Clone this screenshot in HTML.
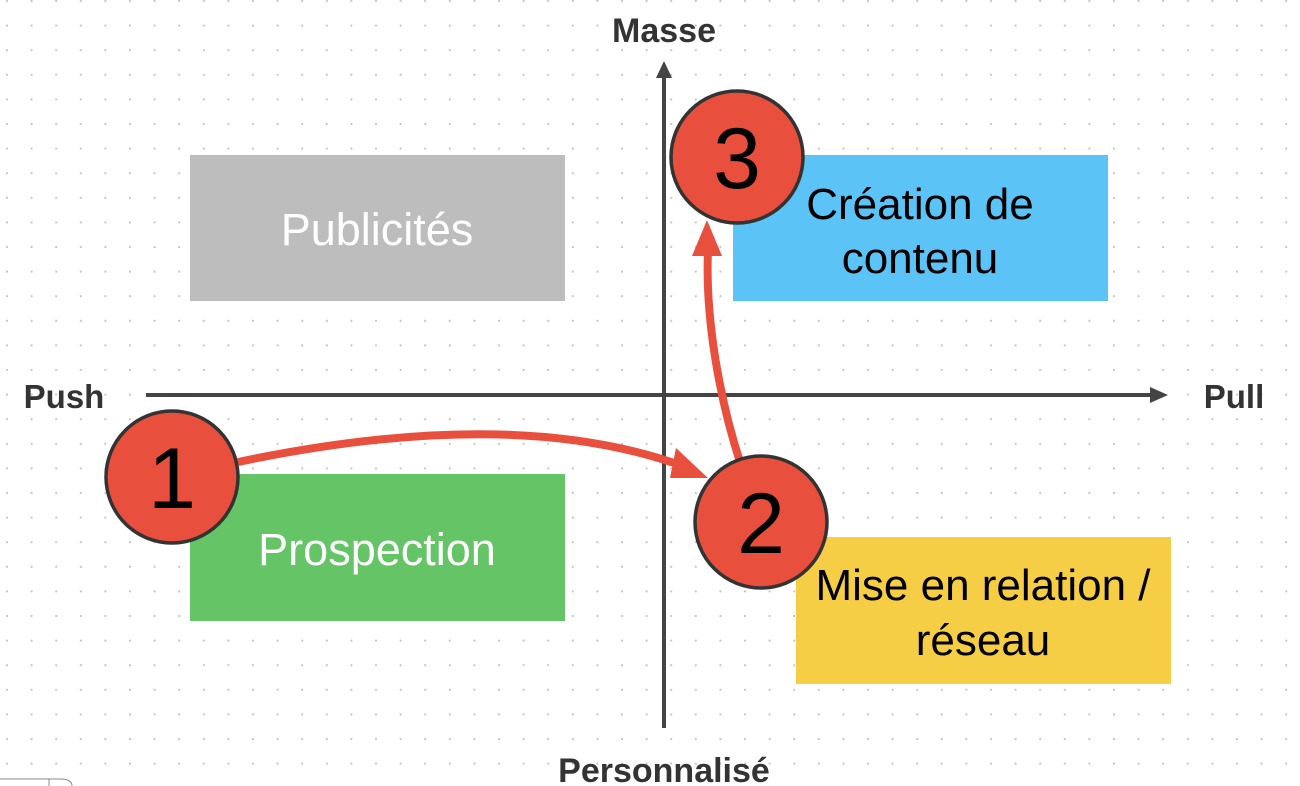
<!DOCTYPE html>
<html><head><style>
html,body{margin:0;padding:0;background:#fff;}
svg{display:block;}
text{font-family:"Liberation Sans",sans-serif;}
</style></head><body>
<svg width="1300" height="786" viewBox="0 0 1300 786" xmlns="http://www.w3.org/2000/svg">
<defs>
<pattern id="dots" x="7" y="1" width="24.6" height="24.6" patternUnits="userSpaceOnUse">
<circle cx="0" cy="0" r="1.1" fill="#c4c4c4"/>
<circle cx="24.6" cy="0" r="1.1" fill="#c4c4c4"/>
<circle cx="0" cy="24.6" r="1.1" fill="#c4c4c4"/>
<circle cx="24.6" cy="24.6" r="1.1" fill="#c4c4c4"/>
</pattern>
</defs>
<rect width="1300" height="786" fill="url(#dots)"/>
<rect x="190" y="155" width="375" height="146" fill="#bdbdbd"/>
<text x="377" y="245" font-size="45" fill="#fff" text-anchor="middle">Publicités</text>
<rect x="733" y="155" width="375" height="146" fill="#5bc3f5"/>
<text x="920" y="219" font-size="44" fill="#000" text-anchor="middle">Création de</text>
<text x="920" y="273" font-size="44" fill="#000" text-anchor="middle">contenu</text>
<rect x="190" y="474" width="375" height="147" fill="#64c466"/>
<text x="377" y="565" font-size="45" fill="#fff" text-anchor="middle">Prospection</text>
<rect x="796" y="537" width="375" height="147" fill="#f6ce46"/>
<text x="983" y="600" font-size="44" fill="#000" text-anchor="middle">Mise en relation /</text>
<text x="983" y="655" font-size="44" fill="#000" text-anchor="middle">réseau</text>
<line x1="664" y1="76" x2="664" y2="728" stroke="#444" stroke-width="4"/>
<polygon points="664,61 656,78 672,78" fill="#444"/>
<line x1="146" y1="395" x2="1152" y2="395" stroke="#444" stroke-width="4"/>
<polygon points="1168,395 1150,387 1150,403" fill="#444"/>
<text x="664" y="42" font-size="34" font-weight="bold" fill="#333" text-anchor="middle">Masse</text>
<text x="664" y="782" font-size="34" font-weight="bold" fill="#333" text-anchor="middle">Personnalisé</text>
<text x="64" y="408" font-size="33" font-weight="bold" fill="#333" text-anchor="middle">Push</text>
<text x="1234" y="408" font-size="33" font-weight="bold" fill="#333" text-anchor="middle">Pull</text>
<path d="M238,462 C400,428 560,420 688,468" fill="none" stroke="#e94f3d" stroke-width="8"/>
<polygon points="708,478 676,448 670,478" fill="#e94f3d"/>
<path d="M740,462 C720,400 705,320 708,250" fill="none" stroke="#e94f3d" stroke-width="8"/>
<polygon points="707,220 692,256 722,256" fill="#e94f3d"/>
<circle cx="172" cy="477" r="66" fill="#e94f3d" stroke="#333" stroke-width="3.5"/>
<text x="172" y="508" font-size="86" fill="#000" text-anchor="middle">1</text>
<circle cx="761" cy="522" r="66" fill="#e94f3d" stroke="#333" stroke-width="3.5"/>
<text x="761" y="553" font-size="86" fill="#000" text-anchor="middle">2</text>
<circle cx="737" cy="157" r="66" fill="#e94f3d" stroke="#333" stroke-width="3.5"/>
<text x="737" y="188" font-size="86" fill="#000" text-anchor="middle">3</text>
<path d="M0,779 H60 Q72,779 72,786" fill="none" stroke="#888" stroke-width="1"/>
<line x1="49" y1="779" x2="49" y2="786" stroke="#888" stroke-width="1"/>
</svg>
</body></html>
